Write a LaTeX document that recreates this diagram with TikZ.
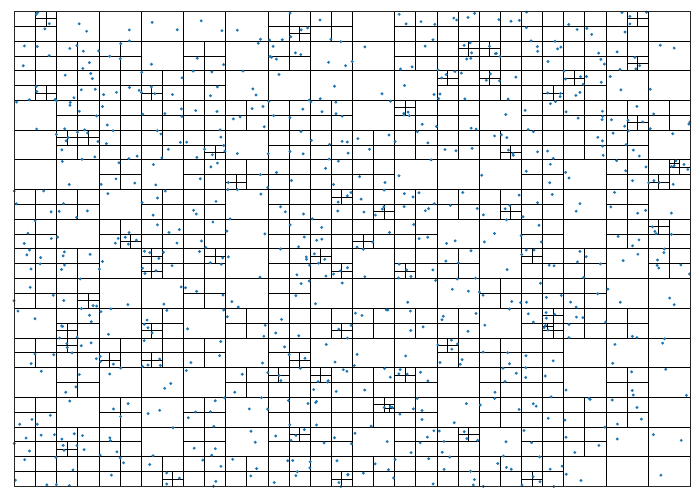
\documentclass[tikz,border=0pt]{standalone}
\definecolor{ptblue}{HTML}{1F77B4}
\tikzset{
  qtline/.style={draw=black, line width=1pt, line cap=rect},
  qtborder/.style={draw=black!85, line width=1pt, line cap=rect},
  qtpoint/.style={fill=ptblue}
}
\newcount\qtI
\newcount\qtC
% ---------- random points on a 4096 x 4096 integer grid ----------
\def\qtpts{}
\pgfmathsetseed{20240}
\qtI=0
\loop
  \pgfmathtruncatemacro\rx{random(0,4095)}%
  \pgfmathtruncatemacro\ry{random(0,4095)}%
  \edef\qtpts{\unexpanded\expandafter{\qtpts}\noexpand\qtp{\rx}{\ry}}%
  \advance\qtI by 1
\ifnum\qtI<850 \repeat
% pixel-snapped positions (1pt = 1px)
\def\qtpx#1{\the\numexpr(#1)*676/4096\relax.5pt}
\def\qtpy#1{\the\numexpr(#1)*475/4096\relax.5pt}
% ---------- quadtree with capacity 2 ----------
\def\qtrec#1#2#3#4{% x0 y0 size depth ; points in \qtlist
  \begingroup
  \qtC=0
  \def\qtp##1##2{\advance\qtC by 1 }%
  \qtlist
  \let\qtnext\relax
  \ifnum\qtC>2 \ifnum#4<9 \def\qtnext{\qtsplit{#1}{#2}{#3}{#4}}\fi\fi
  \qtnext
  \endgroup}
\def\qtsplit#1#2#3#4{%
  \edef\qth{\the\numexpr#3/2\relax}%
  \edef\qxm{\the\numexpr#1+\qth\relax}%
  \edef\qym{\the\numexpr#2+\qth\relax}%
  \edef\qdn{\the\numexpr#4+1\relax}%
  \edef\pxa{\qtpx{#1}}\edef\pxm{\qtpx{\qxm}}\edef\pxe{\qtpx{#1+#3}}%
  \edef\pya{\qtpy{#2}}\edef\pym{\qtpy{\qym}}\edef\pye{\qtpy{#2+#3}}%
  \draw[qtline] (\pxm,\pya) -- (\pxm,\pye);
  \draw[qtline] (\pxa,\pym) -- (\pxe,\pym);
  \def\qa{}\def\qb{}\def\qc{}\def\qd{}%
  \def\qtp##1##2{%
    \ifnum##1<\qxm\relax
      \ifnum##2<\qym\relax
        \expandafter\def\expandafter\qa\expandafter{\qa\qtp{##1}{##2}}%
      \else
        \expandafter\def\expandafter\qc\expandafter{\qc\qtp{##1}{##2}}%
      \fi
    \else
      \ifnum##2<\qym\relax
        \expandafter\def\expandafter\qb\expandafter{\qb\qtp{##1}{##2}}%
      \else
        \expandafter\def\expandafter\qd\expandafter{\qd\qtp{##1}{##2}}%
      \fi
    \fi}%
  \qtlist
  \let\qtlist\qa \edef\qtcall{\noexpand\qtrec{#1}{#2}{\qth}{\qdn}}\qtcall
  \let\qtlist\qb \edef\qtcall{\noexpand\qtrec{\qxm}{#2}{\qth}{\qdn}}\qtcall
  \let\qtlist\qc \edef\qtcall{\noexpand\qtrec{#1}{\qym}{\qth}{\qdn}}\qtcall
  \let\qtlist\qd \edef\qtcall{\noexpand\qtrec{\qxm}{\qym}{\qth}{\qdn}}\qtcall
}
\begin{document}
\begin{tikzpicture}[x=0.165039pt, y=0.115967pt]
  \useasboundingbox (-14pt,-13pt) rectangle (686pt,487pt);
  \coordinate (sw) at (0.5pt,0.5pt);
  \coordinate (ne) at (676.5pt,475.5pt);
  \let\qtlist\qtpts
  \qtrec{0}{0}{4096}{0}
  \def\qtp#1#2{\fill[qtpoint] (#1,#2) circle[radius=1.6pt];}
  \qtpts
  \draw[qtborder] (sw) rectangle (ne);
\end{tikzpicture}
\end{document}
